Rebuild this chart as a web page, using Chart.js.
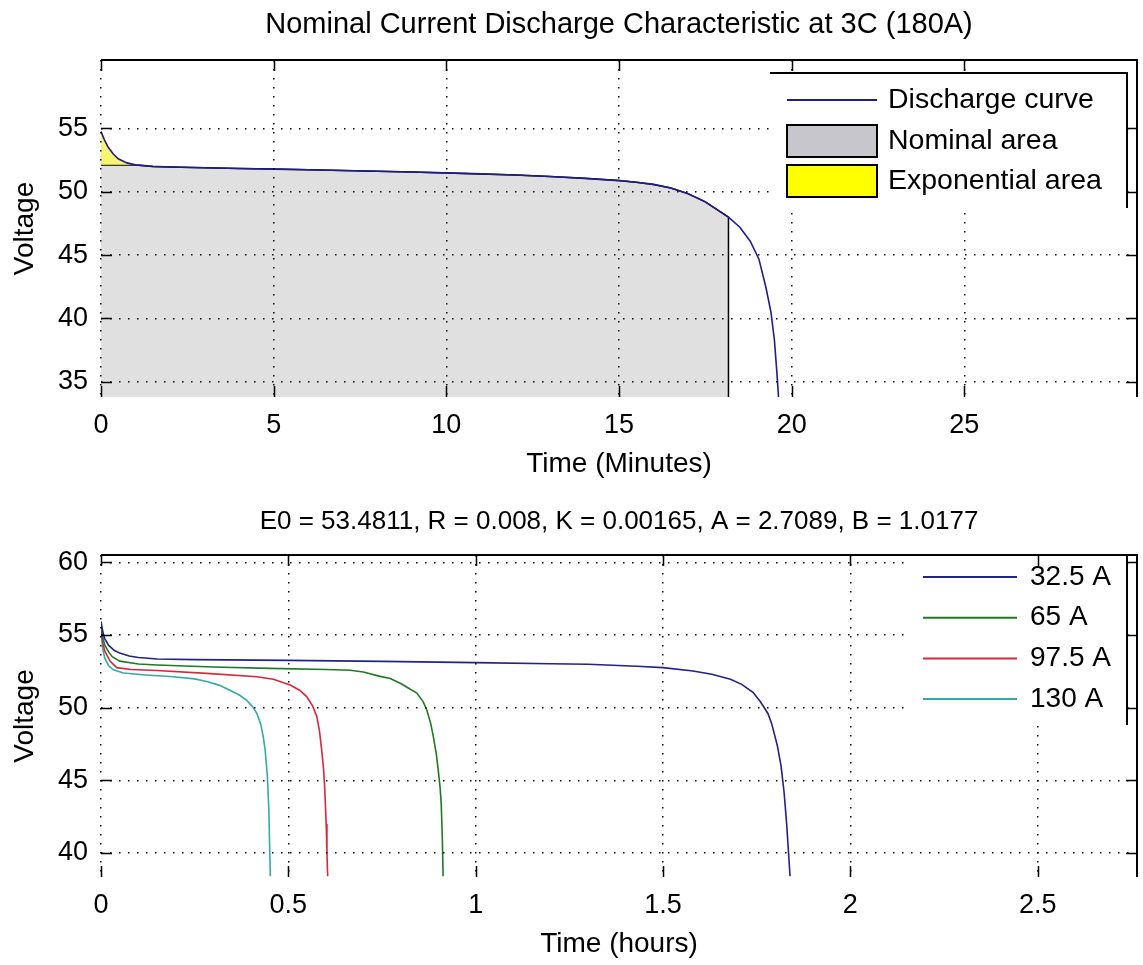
<!DOCTYPE html>
<html><head><meta charset="utf-8">
<script src="https://cdn.jsdelivr.net/npm/chart.js@4.4.1/dist/chart.umd.min.js"></script>
<style>
html,body{margin:0;padding:0;background:#fff;width:1143px;height:965px;overflow:hidden}
canvas{position:absolute;left:0}
#c1{top:0}
#c2{top:505px}
</style></head><body>
<canvas id="c1" width="1143" height="505"></canvas>
<canvas id="c2" width="1143" height="460"></canvas>
<script>
// ---------------- data ----------------
const topTitle = 'Nominal Current Discharge Characteristic at 3C (180A)';
const bottomTitle = 'E0 = 53.4811, R = 0.008, K = 0.00165, A = 2.7089, B = 1.0177';
const topXLabel = 'Time (Minutes)';
const bottomXLabel = 'Time (hours)';
const yLabel = 'Voltage';

const topTime = [0,0.1,0.2,0.35,0.5,0.75,1.0,1.5,2,3,4,5,6,7,8,9,10,11,12,13,14,15,15.5,16,16.5,17,17.5,18.17,18.5,18.8,19.05,19.25,19.4,19.5,19.57,19.62];
const topVoltage = [54.75,54.1,53.55,53.0,52.6,52.28,52.12,52.0,51.95,51.89,51.84,51.79,51.74,51.68,51.62,51.56,51.49,51.41,51.32,51.2,51.06,50.88,50.75,50.58,50.3,49.85,49.2,48.0,47.2,46.1,44.7,42.5,40.5,38.3,35.8,33.8];
const nominalEndTime = 18.17;
const expEndTime = 1.0;
const topXTicks = [0,5,10,15,20,25];
const topYTicks = [35,40,45,50,55];
const topXRange = [0,30];
const topYRange = [33.8,60.4];
const topLegendLabels = ['Discharge curve','Nominal area','Exponential area'];

const bottomLabels = ['32.5 A','65 A','97.5 A','130 A'];
const time325 = [0,0.005,0.01,0.02,0.035,0.05,0.075,0.1,0.15,0.25,0.5,0.75,1.0,1.2,1.3,1.43,1.5,1.58,1.63,1.68,1.71,1.74,1.76,1.78,1.79,1.805,1.815,1.823,1.83,1.835,1.839];
const volt325 = [55.93,55.2,54.75,54.3,53.95,53.75,53.55,53.45,53.35,53.3,53.25,53.18,53.1,53.02,52.98,52.85,52.75,52.52,52.3,51.95,51.6,51.05,50.4,49.6,48.9,47.4,46.0,44.2,42.0,40.0,38.4];
const time65 = [0,0.005,0.01,0.02,0.03,0.05,0.1,0.15,0.3,0.45,0.6,0.665,0.7,0.745,0.772,0.8,0.82,0.843,0.86,0.87,0.88,0.887,0.895,0.9,0.905,0.908,0.911,0.913];
const volt65 = [55.67,54.8,54.3,53.85,53.5,53.2,53.0,52.93,52.8,52.7,52.62,52.57,52.45,52.15,52.0,51.66,51.35,51.0,50.4,49.8,48.9,48.0,46.8,45.7,44.5,43.4,41.0,38.4];
const time975 = [0,0.005,0.01,0.024,0.042,0.08,0.149,0.282,0.416,0.46,0.505,0.53,0.549,0.565,0.576,0.583,0.589,0.594,0.597,0.601,0.603,0.605];
const volt975 = [55.41,54.4,53.9,53.2,52.75,52.62,52.55,52.36,52.13,51.95,51.56,51.2,50.76,50.1,49.4,48.4,47.1,45.8,44.5,42.0,40.0,38.4];
const time130 = [0,0.005,0.01,0.02,0.033,0.06,0.12,0.193,0.25,0.282,0.315,0.344,0.37,0.389,0.405,0.416,0.426,0.433,0.438,0.444,0.448,0.45,0.452];
const volt130 = [55.15,54.0,53.4,52.9,52.6,52.38,52.25,52.13,51.98,51.8,51.55,51.2,50.85,50.5,50.05,49.6,48.9,48.0,47.1,45.3,43.0,40.5,38.4];
const bottomXTicks = [0,0.5,1,1.5,2,2.5];
const bottomYTicks = [40,45,50,55,60];
const bottomXRange = [0,2.765];
const bottomYRange = [38.35,60.5];

// ---------------- styling ----------------
const FONT = "'Liberation Sans', Arial, sans-serif";
const curveColor = '#1e1e8a';
const nominalFill = '#e0e0e0';
const nominalSwatch = '#c6c6cc';
const expFill = 'rgba(242,240,70,0.75)';
const expSwatch = '#ffff00';
const bottomColors = ['#22228a','#1f7a24','#d8283a','#35aaaa'];

const pts = (xs, ys) => xs.map((x, i) => ({x, y: ys[i]}));

const expIdx = topTime.indexOf(expEndTime);
const nomIdx = topTime.indexOf(nominalEndTime);
const expBase = topVoltage[expIdx];
const expPts = pts(topTime.slice(0, expIdx + 1), topVoltage.slice(0, expIdx + 1));
const nomPts = [{x: topTime[0], y: expBase}]
  .concat(pts(topTime.slice(expIdx, nomIdx + 1), topVoltage.slice(expIdx, nomIdx + 1)))
  .concat([{x: nominalEndTime, y: topYRange[0]}]);

function setTicks(list){ return (scale) => { scale.ticks = list.map(v => ({value: v})); }; }

function axes(xr, yr, xt, yt, xlab, xTitlePadBottom, xH){
  return {
    x: {
      type: 'linear', min: xr[0], max: xr[1],
      afterBuildTicks: setTicks(xt),
      afterFit: (s) => { s.height = xH; },
      grid: {color: '#000', lineWidth: 1.5, drawTicks: false, z: 1},
      border: {display: false, dash: [1.5, 7.5]},
      ticks: {color: '#000', font: {family: FONT, size: 27}, padding: 12, maxRotation: 0, autoSkip: false,
              callback: (v) => String(v)},
      title: {display: true, text: xlab, color: '#000', font: {family: FONT, size: 28},
              padding: {top: 0, bottom: xTitlePadBottom}}
    },
    y: {
      type: 'linear', min: yr[0], max: yr[1],
      afterBuildTicks: setTicks(yt),
      afterFit: (s) => { s.width = 101; },
      grid: {color: '#000', lineWidth: 1.5, drawTicks: false, z: 1},
      border: {display: false, dash: [1.5, 7.5]},
      ticks: {color: '#000', font: {family: FONT, size: 27}, padding: 13, autoSkip: false,
              callback: (v) => String(v)},
      title: {display: true, text: yLabel, color: '#000', font: {family: FONT, size: 28},
              padding: {top: 8, bottom: 0}}
    }
  };
}

const framePlugin = {
  id: 'mframe',
  afterDraw(chart, args, o){
    const {ctx, chartArea: a} = chart;
    const x = chart.scales.x, y = chart.scales.y;
    ctx.save();
    const lg = o.legend;
    if (lg){
      ctx.fillStyle = '#fff';
      ctx.fillRect(lg.box[0], lg.box[1], lg.box[2]-lg.box[0], lg.box[3]-lg.box[1]);
      ctx.strokeStyle = '#000'; ctx.lineWidth = 2;
      ctx.beginPath();
      ctx.moveTo(lg.box[0], lg.box[1]); ctx.lineTo(lg.box[2], lg.box[1]); ctx.lineTo(lg.box[2], lg.box[3]);
      ctx.stroke();
      ctx.font = lg.font; ctx.textAlign = 'left'; ctx.textBaseline = 'middle';
      lg.items.forEach(it => {
        if (it.type === 'line'){
          ctx.strokeStyle = it.color; ctx.lineWidth = 2;
          ctx.beginPath(); ctx.moveTo(lg.sample[0], it.y); ctx.lineTo(lg.sample[1], it.y); ctx.stroke();
        } else {
          ctx.fillStyle = it.color;
          ctx.fillRect(lg.sample[0], it.y - lg.swatchH/2, lg.sample[1]-lg.sample[0], lg.swatchH);
          ctx.strokeStyle = '#000'; ctx.lineWidth = 2;
          ctx.strokeRect(lg.sample[0], it.y - lg.swatchH/2, lg.sample[1]-lg.sample[0], lg.swatchH);
        }
        ctx.fillStyle = '#000';
        ctx.fillText(it.label, lg.textX, it.y + (it.dy || 0));
      });
    }
    ctx.strokeStyle = '#000'; ctx.lineWidth = 2;
    ctx.beginPath(); ctx.moveTo(a.left, a.top); ctx.lineTo(a.right, a.top); ctx.lineTo(a.right, a.bottom); ctx.stroke();
    const L = 11;
    ctx.lineWidth = 1.5;
    ctx.beginPath();
    x.ticks.forEach(t => {
      const p = Math.round(x.getPixelForValue(t.value)) + 0.5;
      ctx.moveTo(p, a.bottom); ctx.lineTo(p, a.bottom - L);
      ctx.moveTo(p, a.top); ctx.lineTo(p, a.top + L);
    });
    y.ticks.forEach(t => {
      const p = Math.round(y.getPixelForValue(t.value)) + 0.5;
      ctx.moveTo(a.left, p); ctx.lineTo(a.left + L, p);
      ctx.moveTo(a.right, p); ctx.lineTo(a.right - L, p);
    });
    ctx.stroke();
    ctx.fillStyle = '#000'; ctx.font = o.titleFont; ctx.textAlign = 'center'; ctx.textBaseline = 'middle';
    ctx.fillText(o.title, (a.left + a.right)/2, a.top - o.titleGap);
    ctx.restore();
  }
};

new Chart(document.getElementById('c1'), {
  type: 'line',
  data: {
    datasets: [
      {label: topLegendLabels[0], data: pts(topTime, topVoltage), borderColor: curveColor, borderWidth: 1.6,
       pointRadius: 0, fill: false, tension: 0},
      {label: topLegendLabels[2], data: expPts, borderColor: 'rgba(0,0,0,0)', borderWidth: 0,
       backgroundColor: expFill, pointRadius: 0, fill: {value: expBase}, tension: 0},
      {label: topLegendLabels[1], data: nomPts, borderColor: '#000', borderWidth: 1.5,
       backgroundColor: nominalFill, pointRadius: 0, fill: 'start', tension: 0}
    ]
  },
  options: {
    responsive: false, animation: false, devicePixelRatio: 1,
    layout: {padding: {left: 0, right: 6, top: 60, bottom: 0}},
    plugins: {
      legend: {display: false}, tooltip: {enabled: false},
      mframe: {
        title: topTitle, titleFont: '29px ' + FONT, titleGap: 35,
        legend: {
          box: [770, 73, 1127, 208], sample: [787, 877], textX: 888, swatchH: 32, font: '28.5px ' + FONT,
          items: [
            {type: 'line', color: curveColor, label: topLegendLabels[0], y: 100},
            {type: 'box', color: nominalSwatch, label: topLegendLabels[1], y: 141},
            {type: 'box', color: expSwatch, label: topLegendLabels[2], y: 181}
          ]
        }
      }
    },
    scales: axes(topXRange, topYRange, topXTicks, topYTicks, topXLabel, 24, 108)
  },
  plugins: [framePlugin]
});

const bottomSeries = [pts(time325, volt325), pts(time65, volt65), pts(time975, volt975), pts(time130, volt130)];
new Chart(document.getElementById('c2'), {
  type: 'line',
  data: {
    datasets: bottomSeries.map((d, i) => ({
      label: bottomLabels[i], data: d, borderColor: bottomColors[i], borderWidth: 1.6,
      pointRadius: 0, fill: false, tension: 0
    }))
  },
  options: {
    responsive: false, animation: false, devicePixelRatio: 1,
    layout: {padding: {left: 0, right: 6, top: 50, bottom: 0}},
    plugins: {
      legend: {display: false}, tooltip: {enabled: false},
      mframe: {
        title: bottomTitle, titleFont: '26px ' + FONT, titleGap: 33,
        legend: {
          box: [906, 50, 1127, 220], sample: [923, 1017], textX: 1030, swatchH: 30, font: '28px ' + FONT,
          items: bottomLabels.map((l, i) => ({type: 'line', color: bottomColors[i], label: l, y: 72 + i * 40.7}))
        }
      }
    },
    scales: axes(bottomXRange, bottomYRange, bottomXTicks, bottomYTicks, bottomXLabel, 4, 88)
  },
  plugins: [framePlugin]
});
</script>
</body></html>
